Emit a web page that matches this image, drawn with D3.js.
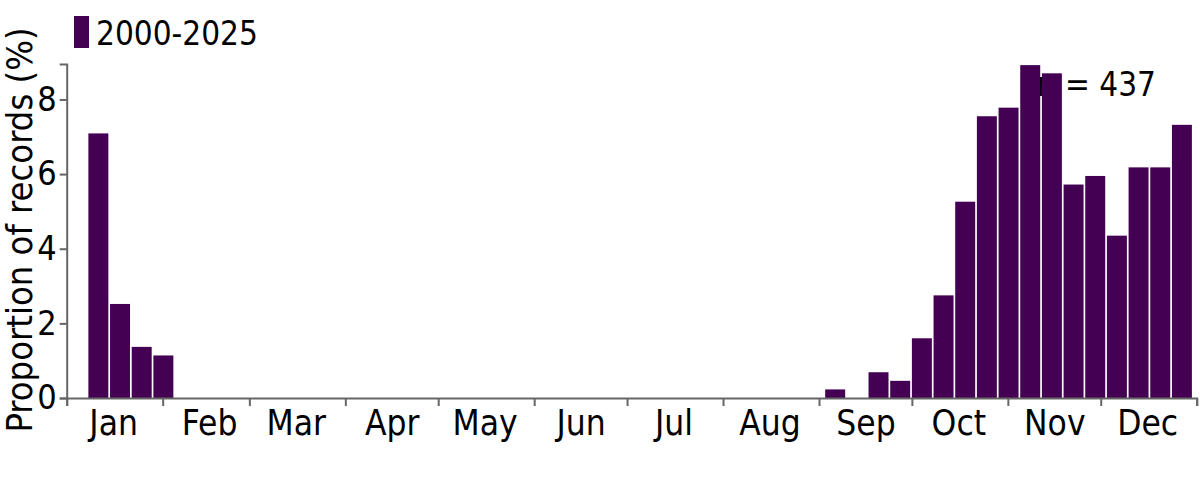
<!DOCTYPE html>
<html>
<head>
<meta charset="utf-8">
<script src="https://cdn.jsdelivr.net/npm/d3@7"></script>
<style>
  body { margin: 0; background: #fff; }
  text { font-family: "DejaVu Sans Condensed", "DejaVu Sans", sans-serif; }
</style>
</head>
<body>
<div class="chart"></div>
<script>
// week number (bar starts at week*7 days after Jan 1) and share of records (%)
const weeks = [1, 2, 3, 4, 35, 36, 37, 38, 39, 40, 41, 42, 43, 44, 45, 46, 47, 48, 49, 50, 51];
const values = [7.09, 2.52, 1.37, 1.14, 0.23, 0, 0.69, 0.46, 1.60, 2.75, 5.26, 7.55, 7.78, 8.92, 8.70, 5.72, 5.95, 4.35, 6.18, 6.18, 7.32];
const yTicks = [0, 2, 4, 6, 8];
const monthNames = ['Jan', 'Feb', 'Mar', 'Apr', 'May', 'Jun', 'Jul', 'Aug', 'Sep', 'Oct', 'Nov', 'Dec'];
const seriesName = '2000-2025';
const nLabel = 'n = 437';

const width = 1200;
const height = 480;
const margin = { top: 64, right: 3.3, bottom: 82, left: 66.7 };
const barColor = '#440154';
const axisColor = '#666666';
const font = '"DejaVu Sans Condensed", "DejaVu Sans", sans-serif';

const svg = d3.select('.chart')
  .append('svg')
  .attr('width', width)
  .attr('height', height);

const start = new Date(2001, 0, 1);
const end = new Date(2002, 0, 1);

const x = d3.scaleTime()
  .domain([start, end])
  .range([margin.left, width - margin.right]);

const y = d3.scaleLinear()
  .domain([0, 8.95])
  .range([height - margin.bottom, margin.top]);

// n label sits behind the bars
svg.append('text')
  .attr('x', 1156)
  .attr('y', 96)
  .attr('text-anchor', 'end')
  .attr('font-size', '33px')
  .text(nLabel);

// bars
const data = weeks.map((w, i) => ({ week: w, value: values[i] }));
svg.selectAll('rect.bar')
  .data(data)
  .enter()
  .append('rect')
  .attr('class', 'bar')
  .attr('x', d => x(d3.timeDay.offset(start, d.week * 7)))
  .attr('width', d => x(d3.timeDay.offset(start, d.week * 7 + 7)) - x(d3.timeDay.offset(start, d.week * 7)) - 1.7)
  .attr('y', d => y(d.value))
  .attr('height', d => y(0) - y(d.value))
  .attr('fill', barColor);

// x axis: ticks at month boundaries
const monthStarts = d3.timeMonth.range(start, d3.timeDay.offset(end, 1));
const xAxis = svg.append('g')
  .attr('transform', `translate(0,${y(0)})`)
  .call(d3.axisBottom(x).tickValues(monthStarts).tickFormat('').tickSizeOuter(0).tickSize(8));
xAxis.selectAll('path, line').attr('stroke', axisColor).attr('stroke-width', 2);

// month labels centred in each month
const monthMids = d3.timeMonth.range(start, end).map(d => new Date(d.getFullYear(), d.getMonth(), 16));
const xLabels = svg.append('g')
  .attr('transform', `translate(0,${y(0)})`)
  .call(d3.axisBottom(x).tickValues(monthMids).tickFormat((d, i) => monthNames[i]).tickSize(0).tickPadding(12));
xLabels.select('.domain').remove();
xLabels.selectAll('text')
  .attr('font-size', '35px')
  .attr('fill', '#000')
  .attr('font-family', font);

// y axis
const yAxis = svg.append('g')
  .attr('transform', `translate(${margin.left},0)`)
  .call(d3.axisLeft(y).tickValues(yTicks).tickSizeOuter(0).tickSize(7).tickPadding(3));
yAxis.selectAll('path, line').attr('stroke', axisColor).attr('stroke-width', 2);
yAxis.selectAll('text')
  .attr('font-size', '34px')
  .attr('fill', '#000')
  .attr('font-family', font);

// y title
svg.append('text')
  .attr('transform', `translate(32,${(y(0) + 62) / 2}) rotate(-90)`)
  .attr('text-anchor', 'middle')
  .attr('font-size', '36px')
  .text('Proportion of records (%)');

// legend
svg.append('rect')
  .attr('x', 74)
  .attr('y', 16)
  .attr('width', 15)
  .attr('height', 32)
  .attr('fill', barColor);

svg.append('text')
  .attr('x', 96)
  .attr('y', 45)
  .attr('font-size', '33px')
  .text(seriesName);
</script>
</body>
</html>
